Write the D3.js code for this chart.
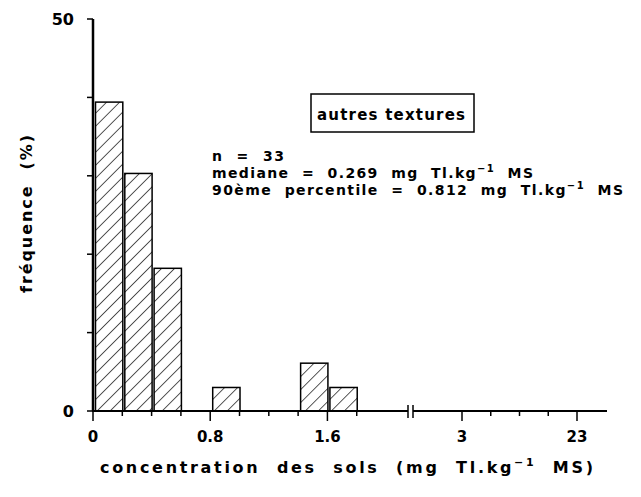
<!DOCTYPE html>
<html>
<head>
<meta charset="utf-8">
<script src="https://cdn.jsdelivr.net/npm/d3@7"></script>
<style>
  body { margin: 0; background: #fff; }
  svg { display: block; font-family: "DejaVu Sans", Verdana, sans-serif; }
  text { white-space: pre; fill: #000; }
</style>
</head>
<body>
<svg id="chart" width="641" height="497"></svg>
<script>
// histogram bins (mg Tl.kg-1) and frequency (%) , n = 33
var binStart = [0, 0.2, 0.4, 0.8, 1.4, 1.6];
var binEnd = [0.2, 0.4, 0.6, 1.0, 1.6, 1.8];
var frequence = [39.4, 30.3, 18.2, 3.0, 6.1, 3.0];

var yTicks = [0, 10, 20, 30, 40, 50];
var yLabels = [0, 50];
var xTicksLow = [0, 0.2, 0.4, 0.6, 0.8, 1.0, 1.2, 1.4, 1.6, 1.8];
var xLabelsLow = [0, 0.8, 1.6];
var xTicksHigh = [3, 8, 13, 18, 23];
var xLabelsHigh = [3, 23];

var svg = d3.select("#chart");

var y = d3.scaleLinear().domain([0, 50]).range([411, 19]);
var xLow = d3.scaleLinear().domain([0, 2.15]).range([93, 408]);
var xHigh = d3.scaleLinear().domain([3, 23]).range([462, 577]);

// hatch
var defs = svg.append("defs");
defs.append("pattern")
    .attr("id", "hatch")
    .attr("patternUnits", "userSpaceOnUse")
    .attr("width", 9.2)
    .attr("height", 9.2)
    .attr("patternTransform", "rotate(45)")
  .append("line")
    .attr("x1", 0).attr("y1", 0)
    .attr("x2", 0).attr("y2", 9.2)
    .attr("stroke", "#000")
    .attr("stroke-width", 1.3);

// bars
binStart.forEach(function(b, i) {
    var x0 = xLow(b) + 2.5;
    var x1 = xLow(binEnd[i]) + 0.5;
    svg.append("rect")
        .attr("x", x0)
        .attr("y", y(frequence[i]))
        .attr("width", x1 - x0)
        .attr("height", y(0) - y(frequence[i]))
        .attr("fill", "url(#hatch)")
        .attr("stroke", "#000")
        .attr("stroke-width", 1.5);
});

// y axis
svg.append("line")
    .attr("x1", 93).attr("x2", 93)
    .attr("y1", y(50)).attr("y2", y(0))
    .attr("stroke", "#000").attr("stroke-width", 2.5);
yTicks.forEach(function(t) {
    svg.append("line")
        .attr("x1", 87).attr("x2", 93)
        .attr("y1", y(t)).attr("y2", y(t))
        .attr("stroke", "#000").attr("stroke-width", 1.5);
});
yLabels.forEach(function(t) {
    svg.append("text")
        .attr("x", 74).attr("y", y(t) + 6)
        .attr("text-anchor", "end")
        .attr("font-size", 16).attr("font-weight", "bold")
        .text(t);
});

// x axis, two pieces with a break
svg.append("line")
    .attr("x1", 92).attr("x2", 408)
    .attr("y1", 411).attr("y2", 411)
    .attr("stroke", "#000").attr("stroke-width", 2);
svg.append("line")
    .attr("x1", 413).attr("x2", 607)
    .attr("y1", 411).attr("y2", 411)
    .attr("stroke", "#000").attr("stroke-width", 2);
[408, 413].forEach(function(bx) {
    svg.append("line")
        .attr("x1", bx).attr("x2", bx)
        .attr("y1", 405).attr("y2", 418)
        .attr("stroke", "#000").attr("stroke-width", 1.5);
});

function xTick(px, major) {
    svg.append("line")
        .attr("x1", px).attr("x2", px)
        .attr("y1", 411).attr("y2", major ? 421 : 416)
        .attr("stroke", "#000").attr("stroke-width", 1.5);
}
xTicksLow.forEach(function(t) { xTick(xLow(t), xLabelsLow.indexOf(t) >= 0); });
xTicksHigh.forEach(function(t) { xTick(xHigh(t), xLabelsHigh.indexOf(t) >= 0); });

xLabelsLow.forEach(function(t) {
    svg.append("text")
        .attr("x", xLow(t)).attr("y", 442)
        .attr("text-anchor", "middle")
        .attr("font-size", 15).attr("font-weight", "bold")
        .text(t);
});
xLabelsHigh.forEach(function(t) {
    svg.append("text")
        .attr("x", xHigh(t)).attr("y", 442)
        .attr("text-anchor", "middle")
        .attr("font-size", 15).attr("font-weight", "bold")
        .text(t);
});

// axis titles
var xt = svg.append("text")
    .attr("x", 100).attr("y", 473)
    .attr("font-size", 16).attr("font-weight", "bold")
    .attr("textLength", 493).attr("lengthAdjust", "spacing");
xt.append("tspan").text("concentration  des  sols  (mg  Tl.kg");
xt.append("tspan").attr("dy", -7).attr("font-size", 11).text("\u22121");
xt.append("tspan").attr("dy", 7).text("  MS)");

svg.append("text")
    .attr("transform", "translate(32,214) rotate(-90)")
    .attr("text-anchor", "middle")
    .attr("font-size", 16).attr("font-weight", "bold")
    .attr("textLength", 158).attr("lengthAdjust", "spacing")
    .text("fréquence  (%)");

// label box
svg.append("rect")
    .attr("x", 311).attr("y", 94)
    .attr("width", 163).attr("height", 38)
    .attr("fill", "none").attr("stroke", "#000").attr("stroke-width", 1.5);
svg.append("text")
    .attr("x", 317).attr("y", 120)
    .attr("font-size", 15).attr("font-weight", "bold")
    .attr("textLength", 148).attr("lengthAdjust", "spacing")
    .text("autres textures");

// stats
svg.append("text")
    .attr("x", 212).attr("y", 161)
    .attr("font-size", 14).attr("font-weight", "bold")
    .attr("textLength", 72).attr("lengthAdjust", "spacing")
    .text("n  =  33");

function statLine(yy, label, len) {
    var t = svg.append("text")
        .attr("x", 212).attr("y", yy)
        .attr("font-size", 14).attr("font-weight", "bold")
        .attr("textLength", len).attr("lengthAdjust", "spacing");
    t.append("tspan").text(label + "  mg  Tl.kg");
    t.append("tspan").attr("dy", -6).attr("font-size", 10).text("\u22121");
    t.append("tspan").attr("dy", 6).text("  MS");
}
statLine(178, "mediane  =  0.269", 321);
statLine(195, "90ème  percentile  =  0.812", 411);
</script>
</body>
</html>
